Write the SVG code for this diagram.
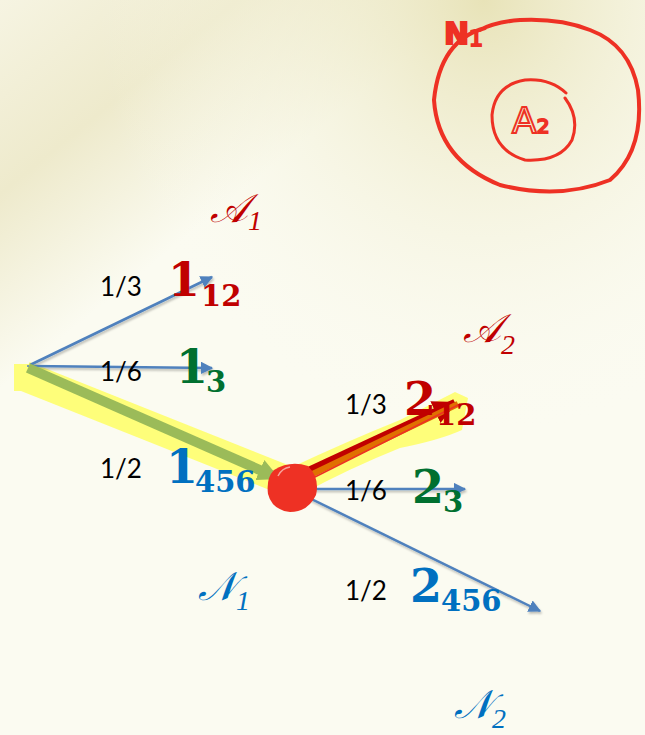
<svg xmlns="http://www.w3.org/2000/svg" width="645" height="735" viewBox="0 0 645 735">
<defs>
<linearGradient id="bg" x1="0" y1="0" x2="0.25" y2="0.35">
<stop offset="0" stop-color="#f6f4e2"/>
<stop offset="0.5" stop-color="#eeeacc"/>
<stop offset="1" stop-color="#fbfbf1"/>
</linearGradient>
<radialGradient id="bg2" cx="0.75" cy="0" r="0.6">
<stop offset="0" stop-color="#e8e3b8" stop-opacity="1"/>
<stop offset="1" stop-color="#fbfbf1" stop-opacity="0"/>
</radialGradient>
<marker id="ab" viewBox="0 0 10 10" refX="9" refY="5" markerWidth="5" markerHeight="5" orient="auto" markerUnits="strokeWidth">
<path d="M0,0 L10,5 L0,10 z" fill="#4f81bd"/>
</marker>
<marker id="ag" viewBox="0 0 10 10" refX="9" refY="5" markerWidth="2.2" markerHeight="2.2" orient="auto" markerUnits="strokeWidth">
<path d="M0,0 L10,5 L0,10 z" fill="#9bbb59"/>
</marker>
<marker id="ar" viewBox="0 0 10 10" refX="9" refY="5" markerWidth="3" markerHeight="3" orient="auto" markerUnits="strokeWidth">
<path d="M0,0 L10,5 L0,10 z" fill="#c00000"/>
</marker>
<filter id="sh" filterUnits="userSpaceOnUse" x="0" y="0" width="645" height="735">
<feDropShadow dx="1" dy="2" stdDeviation="1" flood-color="#000" flood-opacity="0.25"/>
</filter>
</defs>
<style>
.frac{font-family:Lato,"Open Sans","Liberation Sans",sans-serif;font-size:26px;fill:#000}
.big{font-family:"DejaVu Serif","Liberation Serif",serif;font-weight:bold;font-size:46px}
.sub{font-family:"DejaVu Serif","Liberation Serif",serif;font-weight:bold;font-size:29px}
.cal{font-family:"Liberation Serif","DejaVu Serif",serif;font-style:italic;font-size:40px}
.cs{font-family:"Liberation Serif","DejaVu Serif",serif;font-size:28px}
.red{fill:#c00000}.grn{fill:#007030}.blu{fill:#0070c0}
.edge{stroke:#4f81bd;stroke-width:2.5;fill:none;marker-end:url(#ab)}
.ink{stroke:#ee3124;fill:none;stroke-linecap:round;stroke-linejoin:round}
</style>
<rect width="645" height="735" fill="url(#bg)"/>
<rect width="645" height="735" fill="url(#bg2)"/>

<g id="highlights" opacity="0.85">
<rect x="14" y="364" width="18" height="27" fill="#ffff66"/>
<line x1="24" y1="376" x2="290" y2="482" stroke="#ffff66" stroke-width="30"/>
<path d="M290,468 Q350,440 400,420 L455,392 L468,398 L462,430 Q440,440 400,448 Q350,468 300,495 z" fill="#ffff66"/>
</g>

<g id="connectors">
<line class="edge" x1="30" y1="365" x2="212" y2="277" filter="url(#sh)"/>
<line class="edge" x1="30" y1="366" x2="212" y2="368" filter="url(#sh)"/>
<line x1="28" y1="368" x2="278" y2="478" stroke="#9bbb59" stroke-width="10" marker-end="url(#ag)"/>
<line class="edge" x1="293" y1="489" x2="465" y2="489" filter="url(#sh)"/>
<line class="edge" x1="293" y1="490" x2="540" y2="611" filter="url(#sh)"/>
<line x1="300" y1="475" x2="455" y2="403" stroke="#c00000" stroke-width="8" marker-end="url(#ar)"/>
<line x1="300" y1="480" x2="458" y2="404" stroke="#e07000" stroke-width="6"/>
<line x1="305" y1="482" x2="460" y2="404" stroke="#ee3124" stroke-width="1.5"/>
</g>

<g id="node-root"><circle cx="28" cy="366" r="1" fill="#4f81bd"/></g>

<g id="node-mid">
<path d="M274,470 Q290,460 308,466 Q320,478 316,495 Q308,512 290,512 Q272,510 268,494 Q266,478 274,470 z" fill="#ee3124"/>
<path d="M278,476 Q282,468 290,467" stroke="#f7a59c" stroke-width="1.5" fill="none"/>
</g>

<g id="labels-left">
<text class="frac" x="100" y="296">1/3</text>
<text class="big red" x="168" y="296">1</text>
<text class="sub red" x="201" y="306">12</text>
<text class="frac" x="100" y="381">1/6</text>
<text class="big grn" x="176" y="383">1</text>
<text class="sub grn" x="206" y="392">3</text>
<text class="frac" x="100" y="478">1/2</text>
<text class="big blu" x="166" y="483">1</text>
<text class="sub blu" x="195" y="492">456</text>
</g>

<g id="labels-right">
<text class="frac" x="345" y="414">1/3</text>
<text class="big red" x="404" y="415">2</text>
<text class="sub red" x="436" y="425">12</text>
<text class="frac" x="345" y="500">1/6</text>
<text class="big grn" x="412" y="503">2</text>
<text class="sub grn" x="443" y="512">3</text>
<text class="frac" x="345" y="600">1/2</text>
<text class="big blu" x="410" y="602">2</text>
<text class="sub blu" x="441" y="611">456</text>
</g>

<g id="set-labels">
<text class="cal red" x="210" y="222">𝒜<tspan class="cs" dy="8">1</tspan></text>
<text class="cal red" x="463" y="342">𝒜<tspan class="cs" dy="12">2</tspan></text>
<text class="cal blu" x="198" y="600">𝒩<tspan class="cs" dy="10">1</tspan></text>
<text class="cal blu" x="454" y="718">𝒩<tspan class="cs" dy="10">2</tspan></text>
</g>

<g id="annotation">
<path class="ink" stroke-width="4" d="M485,28 Q440,40 434,100 Q438,160 500,185 Q560,200 610,180 Q645,150 638,90 Q630,45 590,30 Q560,18 520,20 Q495,22 480,30"/>
<path class="ink" stroke-width="3" d="M566,93 Q550,78 525,80 Q495,85 492,115 Q492,150 525,160 Q560,162 572,140 Q580,118 565,98"/>
<text x="512" y="133" font-family="'DejaVu Sans',sans-serif" font-size="36" fill="none" stroke="#ee3124" stroke-width="2">A<tspan font-size="20" stroke-width="2">2</tspan></text>
<text x="444" y="44" font-family="'DejaVu Sans',sans-serif" font-weight="bold" font-size="30" fill="#ee3124" stroke="#ee3124" stroke-width="2">N<tspan font-size="22" font-weight="normal" dy="2">1</tspan></text>
</g>
</svg>
